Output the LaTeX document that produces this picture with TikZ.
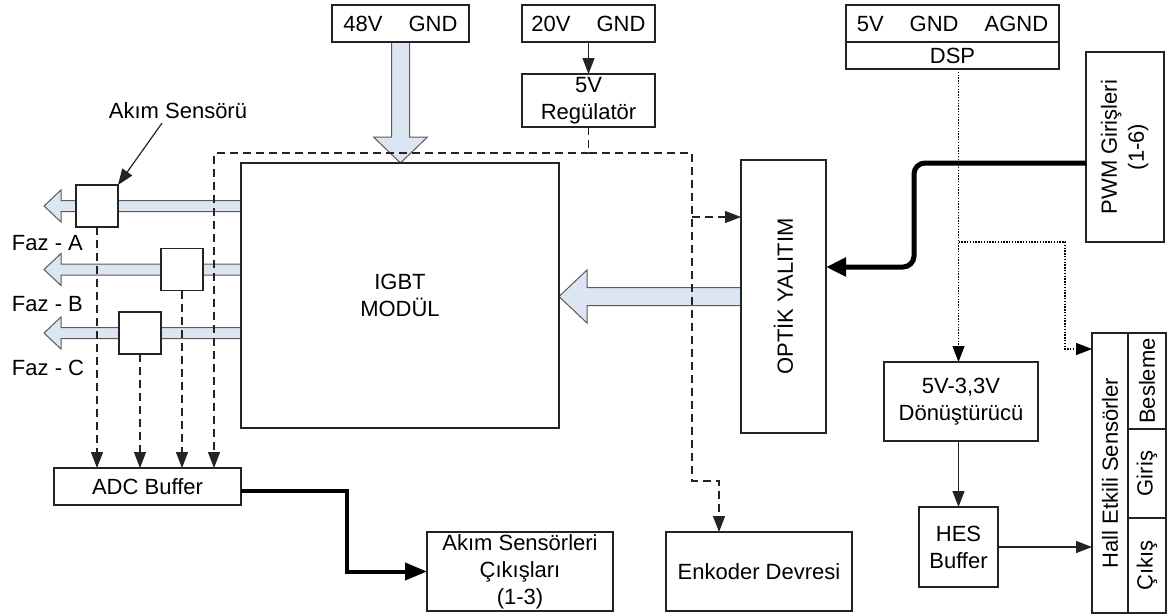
\documentclass[tikz,border=0pt]{standalone}
\usepackage{fontspec}
\setmainfont{Liberation Sans}
\usetikzlibrary{arrows.meta,calc,backgrounds}
\definecolor{flow}{RGB}{220,230,243}
\definecolor{edge}{RGB}{35,35,35}
\begin{document}
\begin{tikzpicture}[x=1pt,y=-1pt,
  every node/.style={font=\fontsize{22}{27}\selectfont, inner sep=0pt, outer sep=0pt},
  box/.style={draw=edge, line width=1.2pt, fill=white, align=center},
  link/.style={draw=edge, line width=1.2pt, -{Triangle[length=16pt,width=12pt]}},
  dsh/.style={link, dash pattern=on 8pt off 5pt},
  dtd/.style={link, draw=black, line width=1.3pt, dash pattern=on 1.4pt off 1.4pt},
  heavy/.style={draw=black, line width=5pt, -{Triangle[length=20pt,width=18pt]}},
  heavyb/.style={draw=black, line width=4pt, -{Triangle[length=22pt,width=17pt]}},
  blk/.style={draw=edge!75, line width=1pt, fill=flow, line join=miter},
]
\useasboundingbox (0,0) rectangle (1170,614);

% power inputs and regulator
\node[box, minimum width=137pt, minimum height=37pt] (ps48) at (400.5,23.5) {48V\hspace{26pt}GND};
\node[box, minimum width=133pt, minimum height=37pt] (ps20) at (588.5,23.5) {20V\hspace{26pt}GND};
\node[box, minimum width=133pt, minimum height=53pt] (reg) at (588.5,100.5) {5V\\Regülatör};

% controller side
\node[box, minimum width=213pt, minimum height=37pt] (dsppw) at (952.5,23.5) {5V\hspace{26pt}GND\hspace{26pt}AGND};
\node[box, minimum width=213pt, minimum height=27pt] (dsp) at (952.5,55.5) {DSP};
\node[box, minimum width=78pt, minimum height=190pt] (pwm) at (1125,147)
  {\rotatebox{90}{\begin{tabular}{@{}c@{}}PWM Girişleri\\(1-6)\end{tabular}}};

% power stage
\node[box, minimum width=318pt, minimum height=265pt] (igbt) at (400,295.5) {IGBT\\MODÜL};
\node[box, minimum width=85pt, minimum height=273pt] (opt) at (783.5,296.5) {\rotatebox{90}{OPTİK YALITIM}};

% measurement and outputs
\node[box, minimum width=187pt, minimum height=37pt] (adc) at (147.5,486.5) {ADC Buffer};
\node[box, minimum width=186pt, minimum height=79pt] (aso) at (520,571.5) {Akım Sensörleri\\Çıkışları\\(1-3)};
\node[box, minimum width=186pt, minimum height=79pt] (enk) at (759,571.5) {Enkoder Devresi};

% hall sensor chain
\node[box, minimum width=154pt, minimum height=79pt] (conv) at (961,401.5) {5V-3,3V\\Dönüştürücü};
\node[box, minimum width=79pt, minimum height=80pt] (hes) at (958.5,547) {HES\\Buffer};
\node[box, minimum width=36pt, minimum height=280pt] (hall) at (1110,473) {\rotatebox{90}{Hall Etkili Sensörler}};
\node[box, minimum width=38pt, minimum height=96pt] (hb1) at (1147,381) {\rotatebox{90}{Besleme}};
\node[box, minimum width=38pt, minimum height=89pt] (hb2) at (1147,473.5) {\rotatebox{90}{Giriş}};
\node[box, minimum width=38pt, minimum height=95pt] (hb3) at (1147,565.5) {\rotatebox{90}{Çıkış}};

% phase outputs
\coordinate (tA) at (44,206);
\coordinate (tB) at (44,269.5);
\coordinate (tC) at (44,333);
\node[anchor=west] (fa) at (12,243) {Faz - A};
\node[anchor=west] (fb) at (12,304) {Faz - B};
\node[anchor=west] (fc) at (12,368) {Faz - C};

% block (power) arrows
\begin{scope}[on background layer]
  \foreach \t in {tA,tB,tC}{
    \path[blk] ($(igbt.west |- \t)+(0,-5.5)$) -- ($(\t)+(17,-5.5)$) -- ($(\t)+(17,-16)$)
      -- (\t) -- ($(\t)+(17,16)$) -- ($(\t)+(17,5.5)$) -- ($(igbt.west |- \t)+(0,5.5)$) -- cycle;
  }
  \path[blk] ($(ps48.south)+(-9,0)$) -- ($(ps48.south |- igbt.north)+(-9,-26)$)
    -- ($(ps48.south |- igbt.north)+(-27,-26)$) -- (ps48.south |- igbt.north)
    -- ($(ps48.south |- igbt.north)+(27,-26)$) -- ($(ps48.south |- igbt.north)+(9,-26)$)
    -- ($(ps48.south)+(9,0)$) -- cycle;
  \path[blk] ($(opt.west)+(0,-9)$) -- ($(igbt.east |- opt.west)+(28,-9)$)
    -- ($(igbt.east |- opt.west)+(28,-26.5)$) -- (igbt.east |- opt.west)
    -- ($(igbt.east |- opt.west)+(28,26.5)$) -- ($(igbt.east |- opt.west)+(28,9)$)
    -- ($(opt.west)+(0,9)$) -- cycle;
\end{scope}

% current sensors
\node[box, minimum size=42pt] (sA) at (97,206) {};
\node[box, minimum size=42pt] (sB) at (182,269.5) {};
\node[box, minimum size=42pt] (sC) at (140,333) {};
\node (lbl) at (178,111) {Akım Sensörü};
\draw[link] ($(lbl.south)+(-16,4)$) -- (sA.north east);

% sensor signals to the ADC buffer
\draw[dsh] (sA.south) -- (sA.south |- adc.north);
\draw[dsh] (sB.south) -- (sB.south |- adc.north);
\draw[dsh] (sC.south) -- (sC.south |- adc.north);

% 5V supply distribution
\coordinate (dl) at (214,153);
\coordinate (dr) at (692,153);
\coordinate (dop) at (692,217);
\coordinate (dk) at (692,481);
\coordinate (dek) at (719,481);
\draw[link] (ps20.south) -- (reg.north);
\draw[dsh] (reg.south) |- (dl) -- (dl |- adc.north);
\draw[dsh] (reg.south |- dl) -- (dr) -- (dk) -- (dek) -- (dek |- enk.north);
\draw[dsh] (dop) -- (dop -| opt.west);

% DSP supply to the hall sensor side
\coordinate (hb) at (1065,349);
\draw[dtd] (dsp.south -| hes) -- (conv.north -| hes);
\draw[dtd] (hes |- pwm.south) -| (hb) -- (hb -| hall.west);
\draw[link] (conv.south -| hes) -- (hes.north);
\draw[link] (hes.east) -- (hes.east -| hall.west);

% PWM signals and current sensor outputs
\coordinate (pw) at (914,163);
\coordinate (pw2) at (914,267);
\draw[heavy, rounded corners=11pt] (pwm.west |- pw) -- (pw) -- (pw2) -- (opt.east |- pw2);
\coordinate (ak) at (347,491);
\draw[heavyb] (adc.east |- ak) -| (ak |- aso.west) -- (aso.west);
\end{tikzpicture}
\end{document}
